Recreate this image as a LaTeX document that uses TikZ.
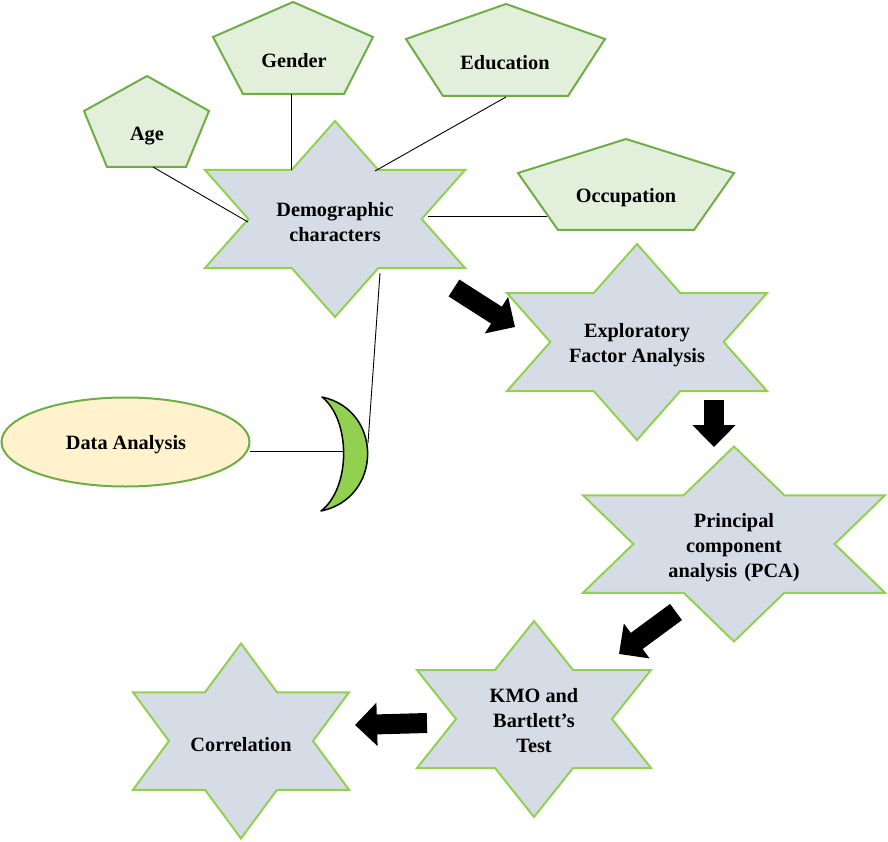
\documentclass[tikz,border=0pt]{standalone}
\usepackage{fontspec}
\setmainfont{Liberation Serif}
\usetikzlibrary{arrows.meta,calc}
\definecolor{starfill}{HTML}{D6DCE5}
\definecolor{starline}{HTML}{92D050}
\definecolor{pentfill}{HTML}{E2EFDA}
\definecolor{pentline}{HTML}{70AD47}
\definecolor{ellfill}{HTML}{FFF2CC}
\definecolor{moonfill}{HTML}{92D050}
\newcommand\hexstarpath[4]{%
  \path[starshape] (#1,{#2-#4}) -- ({#1+#3/3},{#2-#4/2}) -- ({#1+#3},{#2-#4/2})
   -- ({#1+2*#3/3},#2) -- ({#1+#3},{#2+#4/2}) -- ({#1+#3/3},{#2+#4/2})
   -- (#1,{#2+#4}) -- ({#1-#3/3},{#2+#4/2}) -- ({#1-#3},{#2+#4/2})
   -- ({#1-2*#3/3},#2) -- ({#1-#3},{#2-#4/2}) -- ({#1-#3/3},{#2-#4/2}) -- cycle;}
\tikzset{
  starshape/.style={draw=starline,fill=starfill,line width=2pt,line join=miter},
  pentshape/.style={draw=pentline,fill=pentfill,line width=2pt,line join=miter},
  lbl/.style={align=center,inner sep=0pt,yshift=-2pt,font=\bfseries\fontsize{20.3}{25}\selectfont},
  conn/.style={draw=black,line width=0.9pt},
  blockarrow/.style={draw=black,line width=20pt,-{Triangle[width=42pt,length=22pt]}}
}
\begin{document}
\begin{tikzpicture}[x=1pt,y=-1pt]
\useasboundingbox (0,0) rectangle (888,842);
% pentagons
\path[pentshape] (147,76) -- (84,111) -- (107,167) -- (186,167) -- (209,111) -- cycle;
\path[pentshape] (293,2) -- (213,37) -- (243,94) -- (344,94) -- (373,37) -- cycle;
\path[pentshape] (506,4) -- (406,39) -- (443,96) -- (568,96) -- (605,39) -- cycle;
\path[pentshape] (626,139) -- (518,173) -- (558,230) -- (694,230) -- (734,173) -- cycle;
\node[lbl] (age) at (147,134) {Age};
\node[lbl] (gender) at (294,59) {Gender};
\node[lbl] (edu) at (505,61) {Education};
\node[lbl] (occ) at (626,196) {Occupation};
% stars
\hexstarpath{335}{219}{130}{98}
\hexstarpath{637}{342}{130}{98}
\hexstarpath{734}{544}{151}{97.5}
\hexstarpath{534}{719}{117}{98}
\hexstarpath{241}{741}{108}{97.5}
\node[lbl] (dem) at (335,220) {Demographic\\characters};
\node[lbl] (efa) at (637,343) {Exploratory\\Factor Analysis};
\node[lbl] (pca) at (734,546) {Principal\\component\\analysis\hspace{0.35em}(PCA)};
\node[lbl] (kmo) at (534,719) {KMO and\\Bartlett’s\\Test};
\node[lbl] (cor) at (241,743) {Correlation};
% ellipse
\path[draw=pentline,fill=ellfill,line width=2pt] (125.5,442) ellipse [x radius=124,y radius=44.5];
\node[lbl] (data) at (126,443) {Data Analysis};
% moon
\path[draw=black,fill=moonfill,line width=1.5pt,line join=round]
  (322,397) .. controls (383,410) and (383,498) .. (321,511)
  .. controls (351,488) and (351,420) .. (322,397) -- cycle;
\coordinate (moonin) at (344,451);
\coordinate (moonout) at (368,443);
% connectors
\draw[conn] ([shift={(6,31)}]age.center) -- ([shift={(-87,0)}]dem.center);
\draw[conn] ([shift={(-3,33)}]gender.center) -- ([shift={(-44,-52)}]dem.center);
\draw[conn] ([shift={(1,34)}]edu.center) -- ([shift={(40,-51)}]dem.center);
\draw[conn] ([shift={(-79,18)}]occ.center) -- ([shift={(93,-6)}]dem.center);
\draw[conn] ([shift={(45,51)}]dem.center) -- (moonout);
\draw[conn] ([shift={(124,6)}]data.center) -- (moonin);
% block arrows
\coordinate (a1s) at (454,288); \coordinate (a1e) at (515,327);
\coordinate (a2s) at (714,400); \coordinate (a2e) at (714,447);
\coordinate (a3s) at (676,612); \coordinate (a3e) at (619,654);
\coordinate (a4s) at (427,723); \coordinate (a4e) at (355,725);
\draw[blockarrow] (a1s) -- (a1e);
\draw[blockarrow] (a2s) -- (a2e);
\draw[blockarrow] (a3s) -- (a3e);
\draw[blockarrow] (a4s) -- (a4e);
\end{tikzpicture}
\end{document}
